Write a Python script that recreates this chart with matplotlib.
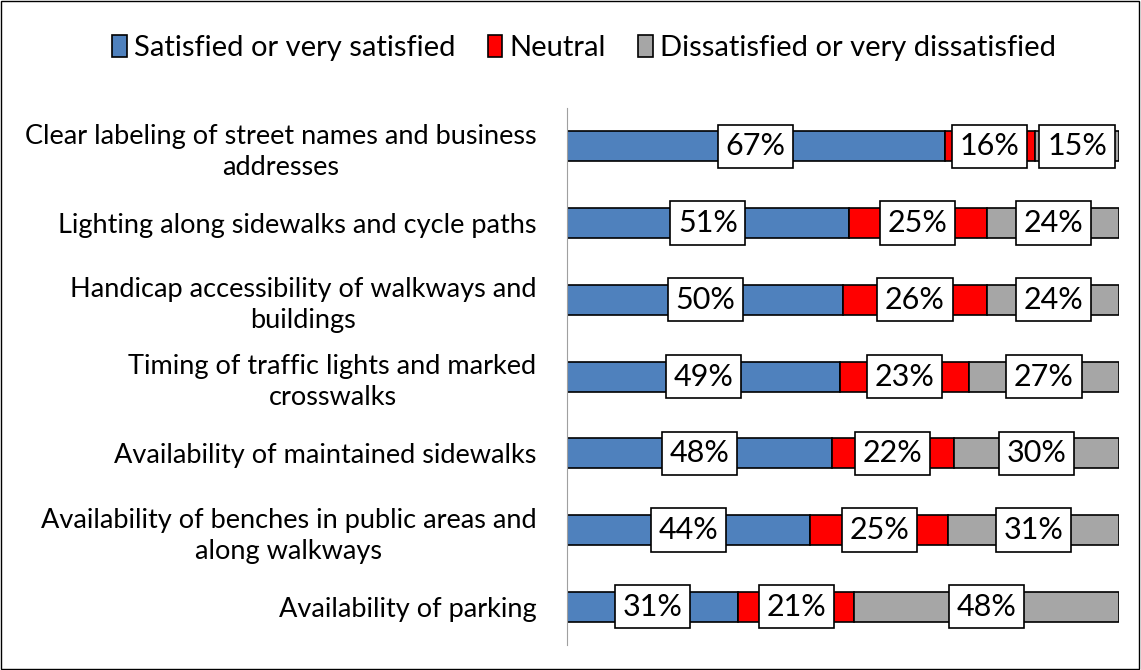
import numpy as np
import matplotlib.pyplot as plt
from matplotlib.patches import Rectangle

plt.rcParams['font.family'] = ['Lato', 'DejaVu Sans']

categories = ["Clear labeling of street names and business\naddresses",
              "Lighting along sidewalks and cycle paths",
              "Handicap accessibility of walkways and\nbuildings",
              "Timing of traffic lights and marked\ncrosswalks",
              "Availability of maintained sidewalks",
              "Availability of benches in public areas and\nalong walkways",
              "Availability of parking"]
satisfied = [67, 51, 50, 49, 48, 44, 31]
neutral = [16, 25, 26, 23, 22, 25, 21]
dissatisfied = [15, 24, 24, 27, 30, 31, 48]
series_names = ["Satisfied or very satisfied", "Neutral", "Dissatisfied or very dissatisfied"]
colors = ["#4F81BD", "#FF0000", "#A6A6A6"]

fig = plt.figure(figsize=(11.41, 6.7), dpi=100)
ax = fig.add_axes([0.497, 0.037, 0.484, 0.802])

# 100% stacked: normalise each row
data = np.array([satisfied, neutral, dissatisfied], dtype=float)
shares = data / data.sum(axis=0) * 100
y = np.arange(len(categories))

left = np.zeros(len(categories))
handles = []
for i in range(3):
    b = ax.barh(y, shares[i], left=left, height=0.39, color=colors[i],
                edgecolor="black", linewidth=1.2, label=series_names[i])
    handles.append(b)
    for j in range(len(categories)):
        ax.text(left[j] + shares[i][j] / 2, y[j], "%d%%" % data[i][j],
                ha="center", va="center", fontsize=22,
                bbox=dict(boxstyle="square,pad=0.25", fc="white", ec="black", lw=1.2))
    left += shares[i]

ax.set_xlim(0, 100)
ax.set_ylim(len(categories) - 0.5, -0.5)
ax.set_yticks(y)
ax.set_yticklabels(categories, fontsize=19.5, multialignment="center", linespacing=1.3)
ax.tick_params(axis="y", length=0, pad=22)
ax.set_xticks([])
for s in ["top", "right", "bottom"]:
    ax.spines[s].set_visible(False)
ax.spines["left"].set_color("#A0A0A0")

fig.legend(handles=handles, loc="center", bbox_to_anchor=(0.512, 0.928), ncol=3,
           frameon=False, fontsize=21, handlelength=0.5, handleheight=0.8,
           handletextpad=0.25, columnspacing=1.1)

# figure border
fig.patches.append(Rectangle((0.001, 0.001), 0.997, 0.997, transform=fig.transFigure,
                             fill=False, edgecolor="black", linewidth=1))

fig.savefig("out.png", dpi=100)
